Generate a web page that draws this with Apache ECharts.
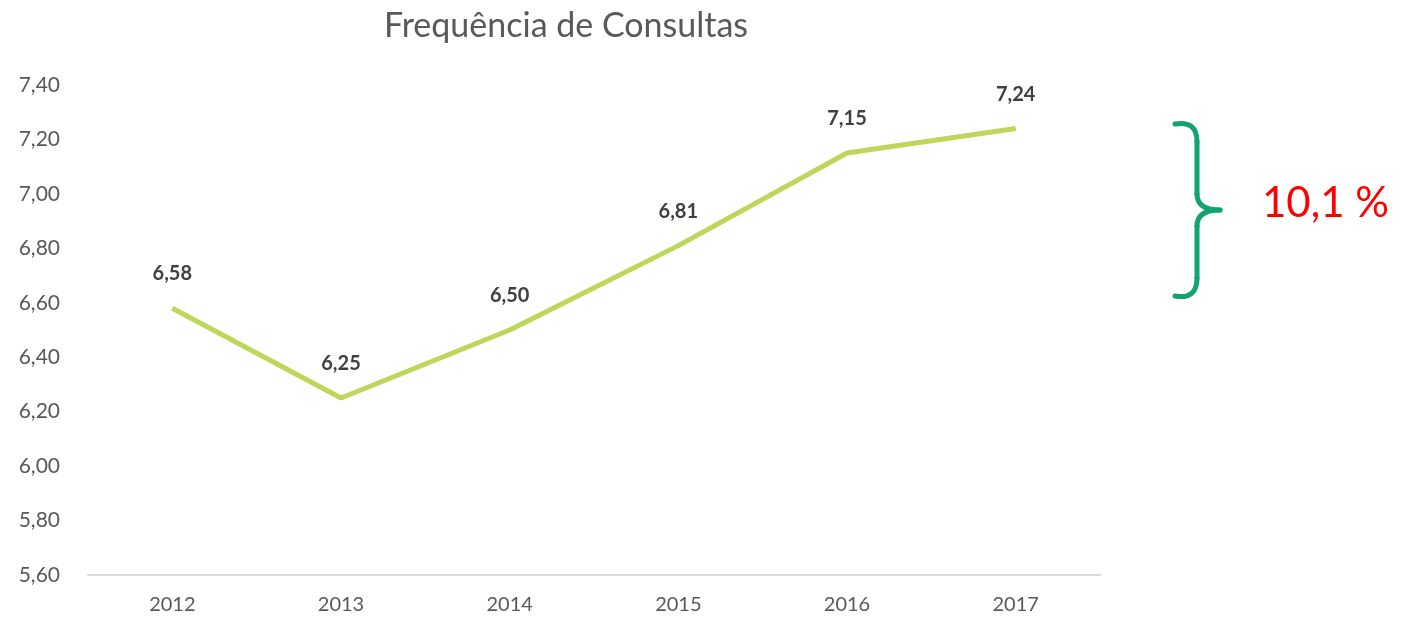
<!DOCTYPE html>
<html>
<head>
<meta charset="utf-8">
<script src="https://cdn.jsdelivr.net/npm/echarts@6/dist/echarts.min.js"></script>
<style>
html, body { margin: 0; padding: 0; background: #fff; }
#chart { width: 1403px; height: 617px; }
</style>
</head>
<body>
<div id="chart"></div>
<script>
var anos = ['2012', '2013', '2014', '2015', '2016', '2017'];
var consultas = [6.58, 6.25, 6.50, 6.81, 7.15, 7.24];
var variacao = '10,1 %';

function virgula(v) {
	return v.toFixed(2).replace('.', ',');
}

// chave verde (desenhada por partes)
var chaveEstilo = { stroke : '#12a373', lineWidth : 5, lineCap : 'round', fill : 'none' };
function curva(x1, y1, cx, cy, x2, y2) {
	return { type : 'bezierCurve', shape : { x1 : x1, y1 : y1, cpx1 : cx, cpy1 : cy, x2 : x2, y2 : y2 }, style : chaveEstilo };
}
function reta(x1, y1, x2, y2) {
	return { type : 'line', shape : { x1 : x1, y1 : y1, x2 : x2, y2 : y2 }, style : chaveEstilo };
}

var myChart = echarts.init(document.getElementById('chart'));
var option = {
	animation : false,
	title : {
		text : 'Frequência de Consultas',
		left : 561,
		top : 4,
		textAlign : 'center',
		textStyle : {
			fontFamily : 'Lato',
			fontWeight : 'normal',
			fontSize : 34,
			color : '#595959'
		}
	},
	grid : {
		left : 88,
		right : 303,
		top : 85,
		bottom : 42
	},
	xAxis : {
		type : 'category',
		data : anos,
		boundaryGap : true,
		axisLine : { lineStyle : { color : '#d9d9d9', width : 2 } },
		axisTick : { show : false },
		axisLabel : {
			fontFamily : 'Lato',
			fontSize : 20,
			color : '#595959',
			margin : 20
		}
	},
	yAxis : {
		type : 'value',
		min : 5.6,
		max : 7.4,
		interval : 0.2,
		axisLine : { show : false },
		axisTick : { show : false },
		splitLine : { show : false },
		axisLabel : {
			fontFamily : 'Lato',
			fontSize : 21,
			color : '#595959',
			margin : 28,
			formatter : function(v) { return virgula(v); }
		}
	},
	series : [ {
		name : 'Consultas',
		type : 'line',
		data : consultas,
		symbol : 'circle',
		symbolSize : 1,
		itemStyle : { color : '#bed75a' },
		lineStyle : { color : '#bed75a', width : 5 },
		label : {
			show : true,
			position : 'top',
			distance : 24,
			fontFamily : 'Lato',
			fontWeight : 'bold',
			fontSize : 20,
			color : '#404040',
			formatter : function(p) { return virgula(p.value); }
		}
	} ],
	graphic : [
		curva(1175, 124, 1197, 120, 1197, 142),
		reta(1197, 142, 1197, 194),
		curva(1197, 194, 1197, 210, 1220, 210),
		curva(1220, 210, 1197, 210, 1197, 226),
		reta(1197, 226, 1197, 278),
		curva(1197, 278, 1197, 300, 1175, 296),
		{
			type : 'text',
			left : 1262,
			top : 182,
			style : {
				text : variacao,
				fontFamily : 'Lato',
				fontSize : 42,
				fill : '#ff0000'
			}
		}
	]
};
myChart.setOption(option);
</script>
</body>
</html>
